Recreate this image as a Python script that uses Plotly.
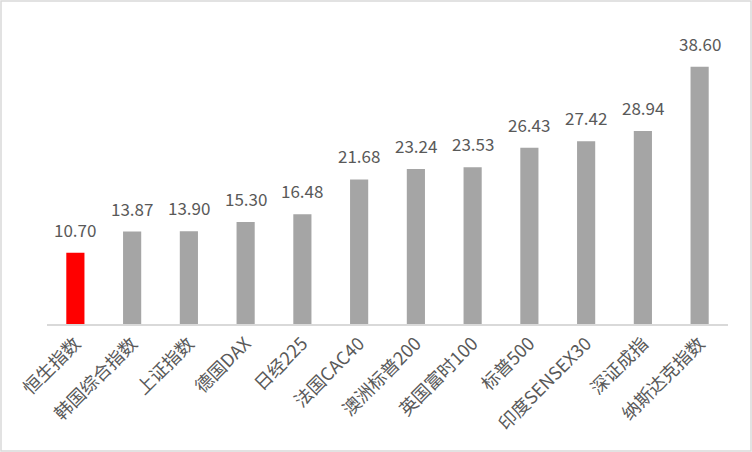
import plotly.graph_objects as go

categories = ["恒生指数", "韩国综合指数", "上证指数", "德国DAX", "日经225", "法国CAC40",
              "澳洲标普200", "英国富时100", "标普500", "印度SENSEX30", "深证成指", "纳斯达克指数"]
values = [10.70, 13.87, 13.90, 15.30, 16.48, 21.68, 23.24, 23.53, 26.43, 27.42, 28.94, 38.60]
colors = ["#FF0000"] + ["#A5A5A5"] * (len(values) - 1)

W, H = 752, 452
L, R, T, B = 47, 24, 24, 128
pw, ph = W - L - R, H - T - B

fig = go.Figure(go.Bar(
    x=categories, y=values, marker_color=colors, marker_line_width=0,
))

for c, v in zip(categories, values):
    fig.add_annotation(x=c, y=v, text=f"{v:.2f}", showarrow=False, yanchor="bottom",
                       yshift=9, font=dict(family="Noto Sans CJK SC, Noto Sans", size=17, color="#595959"))

fig.update_layout(
    width=W, height=H, margin=dict(l=L, r=R, t=T, b=B, autoexpand=False),
    paper_bgcolor="white", plot_bgcolor="white", bargap=0.68, showlegend=False,
    font=dict(family="Noto Sans CJK SC, Noto Sans", color="#595959"),
    xaxis=dict(tickangle=-45, tickfont=dict(size=18, color="#595959"), automargin=False,
               showline=True, linecolor="#D9D9D9", linewidth=2, ticks="", showgrid=False),
    yaxis=dict(range=[0, 45], visible=False, showgrid=False),
    shapes=[dict(type="rect", xref="paper", yref="paper",
                 x0=(1 - L) / pw, x1=(W - 1 - L) / pw,
                 y0=(T + ph - (H - 1)) / ph, y1=(T + ph - 1) / ph,
                 line=dict(color="#D9D9D9", width=1.5))],
)

fig.write_html("out.html", config={"displayModeBar": False},
               post_script="document.body.style.margin='0';document.body.style.overflow='hidden';")
